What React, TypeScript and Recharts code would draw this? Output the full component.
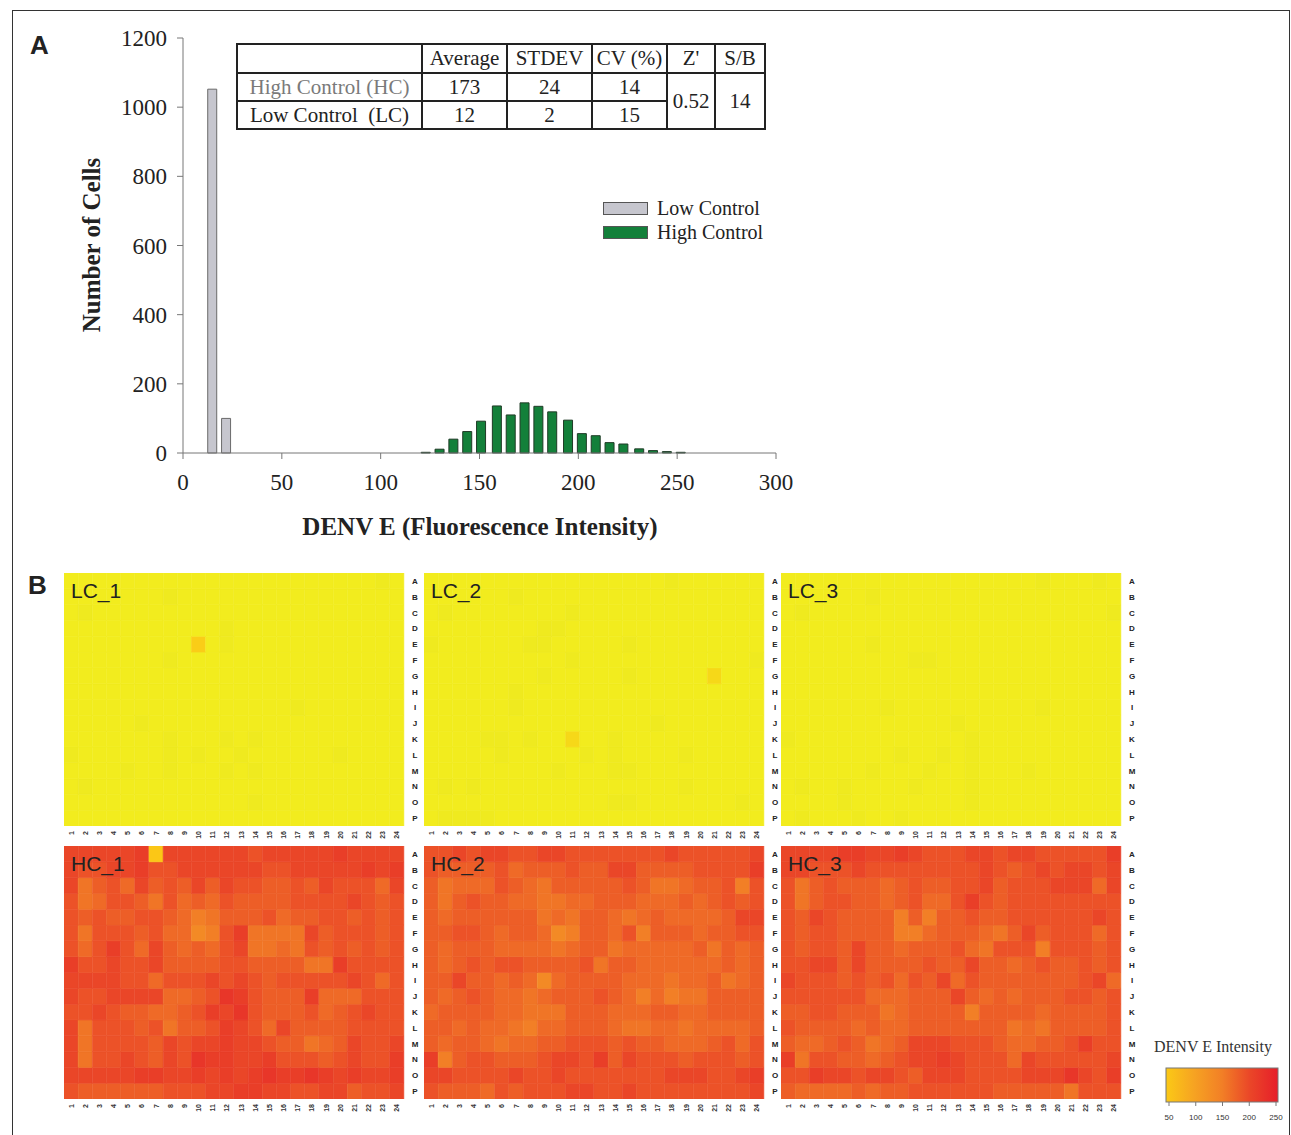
import React from 'react';
import { BarChart, Bar, XAxis, YAxis, Cell } from 'recharts';

// ---------- panel A: histogram ----------
const LOW_BINS = [15, 22];
const LOW_COUNTS = [1052, 100];
const HIGH_BINS = [123, 130, 137, 144, 151, 159, 166, 173, 180, 187, 195, 202, 209, 216, 223, 231, 238, 245, 252];
const HIGH_COUNTS = [2, 11, 40, 62, 92, 136, 110, 145, 135, 119, 95, 56, 50, 30, 26, 12, 7, 4, 2];
const X_TICKS = [0, 50, 100, 150, 200, 250, 300];
const Y_TICKS = [0, 200, 400, 600, 800, 1000, 1200];

const SERIES = [
  { key: 'low', name: 'Low Control', fill: '#c6c6ce', stroke: '#6a6a6a' },
  { key: 'high', name: 'High Control', fill: '#13803a', stroke: '#1f3a26' },
];

const TABLE_HEAD = ['', 'Average', 'STDEV', 'CV (%)', "Z'", 'S/B'];
const HC_STATS = ['High Control (HC)', '173', '24', '14'];
const LC_STATS = ['Low Control\u00a0 (LC)', '12', '2', '15'];
const Z_PRIME = '0.52';
const S_B = '14';

// ---------- panel B: plate heat maps ----------
const ROW_NAMES = ['A', 'B', 'C', 'D', 'E', 'F', 'G', 'H', 'I', 'J', 'K', 'L', 'M', 'N', 'O', 'P'];
const COLS = ['1', '2', '3', '4', '5', '6', '7', '8', '9', '10', '11', '12', '13', '14', '15', '16', '17', '18', '19', '20', '21', '22', '23', '24'];
const SCALE_TICKS = [50, 100, 150, 200, 250];

// intensity read per well, one char per well (see CODE_VALUE)
const CODE_VALUE: Record<string, number> = {
  b: 10, a: 12, c: 30, d: 45, Y: 52,
  '0': 130, '1': 140, '2': 150, '3': 160, '4': 170, '5': 180, '6': 190, '7': 200, '8': 210, '9': 220,
};

const LC_1 = [
  'aaaaaaaaaaaaaaaaaaaaaaba', 'aaaaaaabaaaaaaaaaaaaaaaa', 'abaaaaaaaaaaaaaaaaaaaaaa', 'aaaaaaaaaaabaaaaaaaaaaaa',
  'aaaaaaaaadabaaaaaaaaaaaa', 'aaaaaaabaaaaaaaaaaaaaaaa', 'aaaaaaaaaaaaaaaaaaaaaaaa', 'aaaaaaaaaaaaaaaaaaaaaaaa',
  'aaaaaaaaaaaaaaaabaaaaaaa', 'aaaaabaaaaaaaaaaaaaaaaaa', 'aaaaaaabaaababaaaaaaaaaa', 'baaaaaababaabaaaaaabaaaa',
  'aaaabaabaaababaaaaaaaaaa', 'abaaaaaaaaaaaaaaaaaaaaaa', 'aaaaaaaaaaaaabaaaaaaaaaa', 'aaaaaaaaaaaaaaaaaaaaaaaa',
];
const LC_2 = [
  'aaaaaaaaaaaaaaaaabaaaaaa', 'aaaaaabaaaaaaaaaaaaaaaaa', 'abaaaaaaaabaaaaaaaaaaaaa', 'aaaaaaaabbaaaaaaaaaaaaaa',
  'baaaaaabbaaaaabaaaaaaaaa', 'aaaaaaaaaabaaaaaaaaaaaab', 'aaaaaaaabaaaaabaaaaacaaa', 'aaaaaabaaaaaaaaaaaaaaaaa',
  'aaaaaabaaaaaaaaaaaaaaaaa', 'aaaaaaaaaaaaaaaabaaaaaaa', 'aaaabbabaacaabaaaaaaaaaa', 'aaaaabaaaaababaaaabaaaaa',
  'aaaaaaaaabaaabbaaaaaaaaa', 'ababaaaaaaaaaaaaaabaaaaa', 'aaaaaaaaaaaaabbaaaaaaaba', 'abbbbaaaaaaaaaaaaaaaaaaa',
];
const LC_3 = [
  'aaaaaaaaaaaaaaaaaabaaaba', 'aaaaaabaaaaaaaaaaaaaaaaa', 'abaaaaaaaaaaaaaaaaaaaaab', 'aaaaaaaaaaaaaaaaaaaaaaaa',
  'aaaaaabaaaaaaaaaaaaaaaaa', 'aaaaaaaaabbaaaaaaaaaaaaa', 'aaaaaaaaaaaaaaaaaaaaaaaa', 'aaaaaaaaaaaaaaaaaaaaaaaa',
  'aaaaaaabaaaaaaaaaabaaaaa', 'aaaaaaaaaaaabaaaaaaaaaaa', 'baaaaaaaaaaaabaaaaaaaaaa', 'aaaaaaaabaababaaaaaaaaaa',
  'aaaaaabaaabaabaaabaaaaaa', 'abaabaaaabaaabaaaaaaaaaa', 'aaaabaaaaaaaabaaaaaaaaaa', 'abaaabaabaaaaaaaaaaaaaaa',
];
const HC_1 = [
  '777778Y77777767777787777', '766778667777776677777878', '735647565757665565766647', '634665364546555566667656',
  '656556654235556455665656', '636665644126833337566656', '646864754546733436565656', '866766755556655553386666',
  '777766466676765666667646', '766777744569865558444666', '667655445687965556456766', '736665635568764755556666',
  '736666576778776553457667', '736676576988778666567668', '777778877878789889878778', '655555566677887766775667',
];
const HC_2 = [
  '667677667766666667666667', '655556455565577555566668', '534446543555556533455626', '535655443344555444545656',
  '545555553435543454444577', '556654554125546255545566', '545554444345534444453545', '545656655556355444444545',
  '557554541455554443445345', '545654434555654242335555', '455554433355544455445555', '554544324455543344344445',
  '545543445566656554445646', '825665556776857666566656', '776666766766666667776678', '655546566677667666666667',
];
const HC_3 = [
  '777788778766677677666668', '776667666666667656767767', '635655545655667566677747', '635665545644686566666666',
  '657655552525565566666676', '656655552245554357566646', '656657554555643666266656', '667757555565575545655656',
  '766656564657465555555674', '666666444555754545556656', '556655534555525555455556', '655554544555555534355556',
  '544565345777666544556866', '836655456778766647666667', '668776776577766667779768', '544445455666666555553666',
];

const PLATES = [
  { name: 'LC_1', wells: LC_1, left: 64, top: 573 },
  { name: 'LC_2', wells: LC_2, left: 424, top: 573 },
  { name: 'LC_3', wells: LC_3, left: 781, top: 573 },
  { name: 'HC_1', wells: HC_1, left: 64, top: 846 },
  { name: 'HC_2', wells: HC_2, left: 424, top: 846 },
  { name: 'HC_3', wells: HC_3, left: 781, top: 846 },
];

const SERIF = '"Liberation Serif", "Times New Roman", serif';
const SANS = '"Liberation Sans", Arial, sans-serif';

const COLOR_STOPS: [number, string][] = [
  [0, '#e0e022'], [8, '#ebe71f'], [12, '#f2ec1e'], [30, '#f6d818'], [50, '#fbc916'],
  [100, '#f6a322'], [140, '#f38a25'], [170, '#ef6a27'], [200, '#ea4628'], [250, '#e61e2a'],
];

const hexRgb = (h: string) => [1, 3, 5].map(i => parseInt(h.slice(i, i + 2), 16));

function colorFor(v: number): string {
  if (v <= COLOR_STOPS[0][0]) return COLOR_STOPS[0][1];
  for (let i = 1; i < COLOR_STOPS.length; i++) {
    const [v1, c1] = COLOR_STOPS[i];
    if (v <= v1) {
      const [v0, c0] = COLOR_STOPS[i - 1];
      const t = (v - v0) / (v1 - v0);
      const a = hexRgb(c0), b = hexRgb(c1);
      const m = a.map((x, k) => Math.round(x + (b[k] - x) * t));
      return `rgb(${m[0]},${m[1]},${m[2]})`;
    }
  }
  return COLOR_STOPS[COLOR_STOPS.length - 1][1];
}

const histData = [
  ...LOW_BINS.map((x, i) => ({ x, low: LOW_COUNTS[i], high: 0 })),
  ...HIGH_BINS.map((x, i) => ({ x, low: 0, high: HIGH_COUNTS[i] })),
];

const plateData = COLS.map(col => {
  const d: Record<string, any> = { col };
  ROW_NAMES.forEach((_, ri) => { d['r' + ri] = 1; });
  return d;
});
const ROW_TICKS = ROW_NAMES.map((_, ri) => 15.5 - ri);
// bottom of the stack first: row P up to row A
const STACK_ORDER = ROW_NAMES.map((_, ri) => 15 - ri);

const HistLegend = () => (
  <div style={{ position: 'absolute', left: 603, top: 196 }}>
    {SERIES.map(s => (
      <div key={s.key} style={{ display: 'flex', alignItems: 'center', height: 24 }}>
        <span style={{ width: 45, height: 13, background: s.fill, border: '1px solid #555', boxSizing: 'border-box', marginRight: 9 }} />
        <span style={{ fontFamily: SERIF, fontSize: 20, color: '#222' }}>{s.name}</span>
      </div>
    ))}
  </div>
);

const Histogram = () => (
  <div style={{ position: 'absolute', left: 0, top: 0 }}>
    <BarChart width={800} height={500} data={histData} margin={{ top: 38, right: 24, bottom: 7, left: 103 }}>
      <XAxis dataKey="x" type="number" domain={[0, 300]} ticks={X_TICKS} padding={{ left: 0, right: 0 }}
        height={40} tickSize={6} tickMargin={15} stroke="#777"
        tick={{ fontFamily: SERIF, fontSize: 23, fill: '#222' }} />
      <XAxis xAxisId="top" orientation="top" type="number" domain={[0, 300]} tick={false} tickLine={false} height={0} stroke="#999" />
      <YAxis type="number" domain={[0, 1200]} ticks={Y_TICKS} width={80} tickSize={6} tickMargin={10} stroke="#777"
        tick={{ fontFamily: SERIF, fontSize: 23, fill: '#222' }} />
      <YAxis yAxisId="right" orientation="right" type="number" domain={[0, 1200]} tick={false} tickLine={false} width={0} stroke="#999" />
      {SERIES.map(s => (
        <Bar key={s.key} dataKey={s.key} name={s.name} stackId="h" barSize={9} fill={s.fill} stroke={s.stroke} strokeWidth={1} isAnimationActive={false} />
      ))}
    </BarChart>
  </div>
);

const StatsTable = () => {
  const cell: React.CSSProperties = { border: '2px solid #222', padding: 0, textAlign: 'center', whiteSpace: 'nowrap' };
  return (
    <table style={{ position: 'absolute', left: 236, top: 43, borderCollapse: 'collapse', tableLayout: 'fixed', width: 528, fontFamily: SERIF, fontSize: 21, color: '#222', background: '#fff' }}>
      <colgroup>
        {[185, 85, 85, 75, 48, 50].map((w, i) => <col key={i} style={{ width: w }} />)}
      </colgroup>
      <tbody>
        <tr style={{ height: 29 }}>
          {TABLE_HEAD.map((h, i) => <td key={i} style={cell}>{h}</td>)}
        </tr>
        <tr style={{ height: 28 }}>
          {HC_STATS.map((h, i) => <td key={i} style={{ ...cell, color: i === 0 ? '#7a7a7a' : '#222' }}>{h}</td>)}
          <td rowSpan={2} style={cell}>{Z_PRIME}</td>
          <td rowSpan={2} style={cell}>{S_B}</td>
        </tr>
        <tr style={{ height: 28 }}>
          {LC_STATS.map((h, i) => <td key={i} style={cell}>{h}</td>)}
        </tr>
      </tbody>
    </table>
  );
};

const RowTick = (p: any) => (
  <text x={p.x + 9} y={p.y} dy={3} textAnchor="middle" fontFamily={SANS} fontSize={8} fontWeight="bold" fill="#222">
    {ROW_NAMES[15 - Math.floor(p.payload.value)]}
  </text>
);

const ColTick = (p: any) => (
  <text transform={`translate(${p.x},${p.y + 3}) rotate(-90)`} dy={2.5} textAnchor="end" fontFamily={SANS} fontSize={7} fontWeight="bold" fill="#333">
    {p.payload.value}
  </text>
);

const Plate = ({ name, wells, left, top }: { name: string; wells: string[]; left: number; top: number }) => (
  <div style={{ position: 'absolute', left, top }}>
    <BarChart width={360} height={275} data={plateData} margin={{ top: 0, right: 0, bottom: 0, left: 0 }} barCategoryGap={0} barGap={0}>
      <XAxis dataKey="col" interval={0} axisLine={false} tickLine={false} tickSize={0} height={22} tick={ColTick} />
      <YAxis type="number" orientation="right" domain={[0, 16]} ticks={ROW_TICKS} interval={0} allowDataOverflow width={20}
        axisLine={false} tickLine={false} tickSize={0} tick={RowTick} />
      {STACK_ORDER.map(ri => (
        <Bar key={ri} dataKey={'r' + ri} stackId="p" isAnimationActive={false}>
          {COLS.map((c, ci) => {
            const fill = colorFor(CODE_VALUE[wells[ri][ci]]);
            return <Cell key={c} fill={fill} stroke={fill} strokeWidth={0.6} />;
          })}
        </Bar>
      ))}
    </BarChart>
    <div style={{ position: 'absolute', left: 7, top: 7, fontFamily: SANS, fontSize: 21, lineHeight: '21px', color: '#222' }}>{name}</div>
  </div>
);

const ScaleLegend = () => {
  const x0 = 29, x1 = 136;
  const px = (v: number) => x0 + ((v - 50) / 200) * (x1 - x0);
  return (
    <svg style={{ position: 'absolute', left: 1140, top: 1030 }} width={150} height={100}>
      <defs>
        <linearGradient id="denvScale" x1="0" x2="1" y1="0" y2="0">
          {SCALE_TICKS.map(v => <stop key={v} offset={(v - 50) / 200} stopColor={colorFor(v)} />)}
        </linearGradient>
      </defs>
      <text x={73} y={22} textAnchor="middle" fontFamily={SERIF} fontSize={16} fill="#333">DENV E Intensity</text>
      <rect x={26} y={38} width={112} height={34} fill="url(#denvScale)" stroke="#777" strokeWidth={1} />
      {SCALE_TICKS.map(v => (
        <g key={v}>
          <line x1={px(v)} x2={px(v)} y1={72} y2={76} stroke="#777" />
          <text x={px(v)} y={90} textAnchor="middle" fontFamily={SANS} fontSize={8} fill="#333">{v}</text>
        </g>
      ))}
    </svg>
  );
};

export default function App() {
  return (
    <div style={{ position: 'absolute', left: 0, top: 0, width: 1291, height: 1135, background: '#fff', overflow: 'hidden' }}>
      <div style={{ position: 'absolute', left: 12, top: 10, width: 1276, height: 1140, border: '1.5px solid #333' }} />
      <div style={{ position: 'absolute', left: 30, top: 30, fontFamily: SANS, fontWeight: 'bold', fontSize: 26, color: '#222' }}>A</div>
      <div style={{ position: 'absolute', left: 28, top: 570, fontFamily: SANS, fontWeight: 'bold', fontSize: 26, color: '#222' }}>B</div>

      <Histogram />
      <StatsTable />
      <HistLegend />
      <div style={{ position: 'absolute', left: 92, top: 245, transform: 'translate(-50%, -50%) rotate(-90deg)', whiteSpace: 'nowrap', fontFamily: SERIF, fontWeight: 'bold', fontSize: 25, color: '#222' }}>
        Number of Cells
      </div>
      <div style={{ position: 'absolute', left: 480, top: 527, transform: 'translate(-50%, -50%)', whiteSpace: 'nowrap', fontFamily: SERIF, fontWeight: 'bold', fontSize: 25, color: '#222' }}>
        DENV E (Fluorescence Intensity)
      </div>

      {PLATES.map(p => <Plate key={p.name} {...p} />)}
      <ScaleLegend />
    </div>
  );
}
